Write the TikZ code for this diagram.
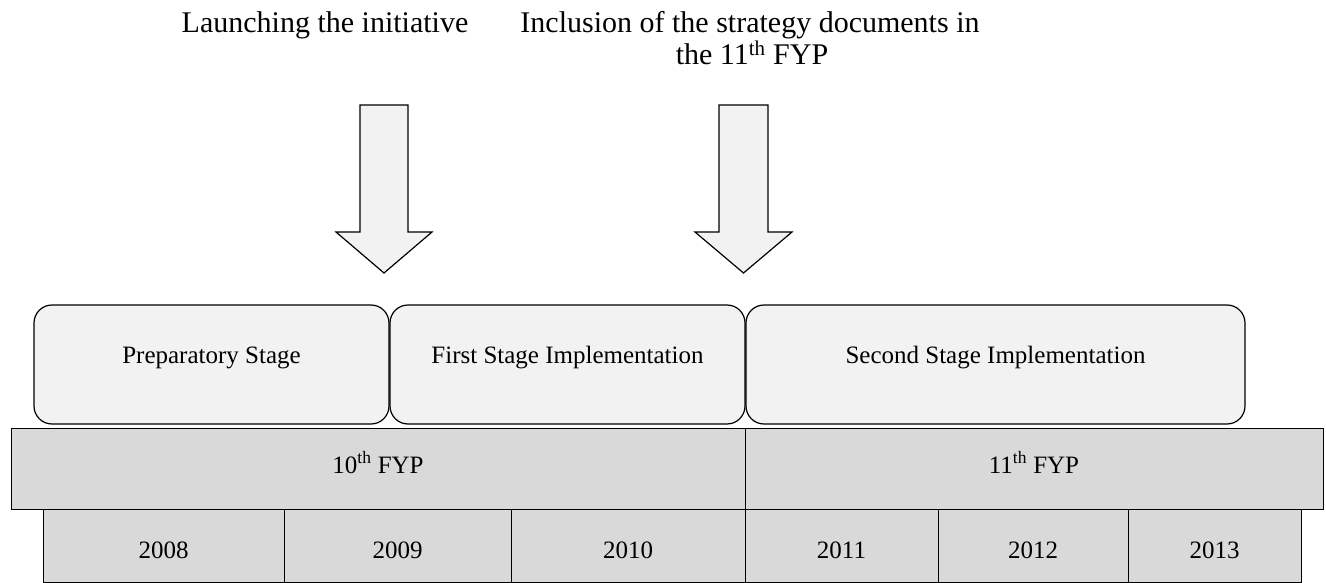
\documentclass[tikz,border=0pt]{standalone}
\usepackage{fontspec}
\setmainfont{Liberation Serif}
\definecolor{stagefill}{HTML}{F2F2F2}
\definecolor{barfill}{HTML}{D9D9D9}
\tikzset{
  stagebox/.style={draw=black, line width=1.2pt, fill=stagefill, rounded corners=18pt,
    inner sep=0pt, minimum height=119pt},
  barbox/.style={draw=black, line width=1pt, fill=barfill, inner sep=0pt},
  fyprow/.style={barbox, minimum height=81pt},
  yearrow/.style={barbox, minimum height=73pt},
  boxtext/.style={anchor=base, inner sep=0pt, font=\fontsize{25}{30}\selectfont},
  toptext/.style={anchor=base, inner sep=0pt, align=center,
    font=\fontsize{30}{32}\selectfont},
  blockarrow/.style={draw=black, line width=1.2pt, fill=stagefill, line join=miter}
}
\begin{document}
\begin{tikzpicture}[x=1pt, y=-1pt]
\useasboundingbox (0,0) rectangle (1326,583);

% captions above the arrows
\node[toptext] (launch) at (325,33) {Launching the initiative};
\node[toptext] (incl1) at (750,33) {Inclusion of the strategy documents in};
\node[toptext] (incl2) at (752,65) {the 11\textsuperscript{th} FYP};

% block arrows pointing down to the stage boundaries
\draw[blockarrow] (360,105) -- (408,105) -- (408,232) -- (432,232) -- (384,273)
  -- (336,232) -- (360,232) -- cycle;
\draw[blockarrow] (719,105) -- (768,105) -- (768,232) -- (792,232) -- (743.5,273)
  -- (695,232) -- (719,232) -- cycle;

% stages
\node[stagebox, minimum width=355pt] (prep) at (211.5,364.5) {};
\node[stagebox, minimum width=355pt] (first) at (567.5,364.5) {};
\node[stagebox, minimum width=499pt] (second) at (995.5,364.5) {};
\node[boxtext] (prept) at (prep.center |- 0,363) {Preparatory Stage};
\node[boxtext] (firstt) at (first.center |- 0,363) {First Stage Implementation};
\node[boxtext] (secondt) at (second.center |- 0,363) {Second Stage Implementation};

% five-year plans
\node[fyprow, minimum width=734pt] (fyp10) at (378,468.5) {};
\node[fyprow, minimum width=578pt] (fyp11) at (1034,468.5) {};
\node[boxtext] (fyp10t) at (fyp10.center |- 0,473) {10\textsuperscript{th} FYP};
\node[boxtext] (fyp11t) at (fyp11.center |- 0,473) {11\textsuperscript{th} FYP};

% years
\foreach \yr/\a/\b in {2008/43/284, 2009/284/511, 2010/511/745,
                        2011/745/938, 2012/938/1128, 2013/1128/1301}{
  \node[yearrow, minimum width={\b-\a}] (y\yr) at ({(\a+\b)/2},545.5) {};
  \node[boxtext] (y\yr t) at (y\yr.center |- 0,558) {\yr};
}
\end{tikzpicture}
\end{document}
